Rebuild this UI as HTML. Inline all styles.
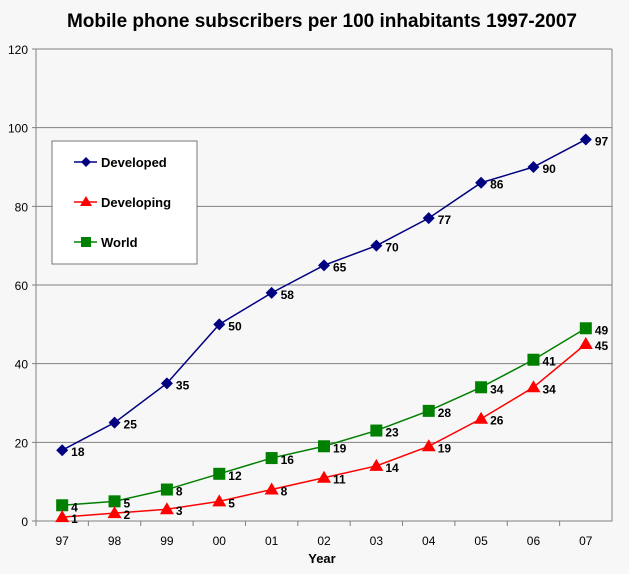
<!DOCTYPE html>
<html><head><meta charset="utf-8"><style>
body{margin:0;background:#f7f7f7;font-family:"Liberation Sans",Arial,sans-serif}
svg text{font-family:"Liberation Sans",Arial,sans-serif}
</style></head><body>
<svg id="c" width="629" height="569" xmlns="http://www.w3.org/2000/svg">
<rect width="629" height="569" fill="#f7f7f7"/>
<text x="322" y="27" text-anchor="middle" font-size="19" font-weight="bold">Mobile phone subscribers per 100 inhabitants 1997-2007</text>
<g id="grid"></g>
<g id="marks"></g>
<text x="322" y="563" text-anchor="middle" font-size="13" font-weight="bold">Year</text>
<g>
<rect x="52" y="141" width="145" height="123" fill="#fff" stroke="#777" stroke-width="1"/>
<line x1="74" y1="162" x2="97" y2="162" stroke="#000080" stroke-width="1.5"/><path d="M86 157 L91 162 L86 167 L81 162Z" fill="#000080"/>
<text x="101" y="167" font-size="13" font-weight="bold">Developed</text>
<line x1="74" y1="202" x2="97" y2="202" stroke="#f00" stroke-width="1.5"/><path d="M86 196 L92 206 L80 206Z" fill="#f00"/>
<text x="101" y="207" font-size="13" font-weight="bold">Developing</text>
<line x1="74" y1="242" x2="97" y2="242" stroke="#008000" stroke-width="1.5"/><rect x="81" y="237" width="10" height="10" fill="#008000"/>
<text x="101" y="247" font-size="13" font-weight="bold">World</text>
</g>
</svg>
<script>
const categories=["97","98","99","00","01","02","03","04","05","06","07"];
const developed=[18,25,35,50,58,65,70,77,86,90,97];
const developing=[1,2,3,5,8,11,14,19,26,34,45];
const world=[4,5,8,12,16,19,23,28,34,41,49];
const yTicks=[0,20,40,60,80,100,120];
const NS="http://www.w3.org/2000/svg";
const X0=36,X1=612,Y0=521,Y1=49,YMAX=120;
const bw=(X1-X0)/categories.length;
const x=i=>X0+bw*(i+0.5);
const y=v=>Y0-(v/YMAX)*(Y0-Y1);
function mk(t,a,p){const e=document.createElementNS(NS,t);for(const k in a)e.setAttribute(k,a[k]);p.appendChild(e);return e;}
const grid=document.getElementById('grid'),marks=document.getElementById('marks');
yTicks.forEach(v=>{
  const l=mk('line',{x1:X0-4,x2:X1,y1:y(v),y2:y(v),stroke:'#808080','stroke-width':1},grid);
  
  
  const t=mk('text',{x:X0-8,y:y(v)+5,'text-anchor':'end','font-size':12},grid);t.textContent=v;
  
  
});
const ax=mk('path',{d:`M${X0} ${Y1} L${X0} ${Y0} L${X1} ${Y0} L${X1} ${Y1}`,fill:'none',stroke:'#808080','stroke-width':1},grid);


categories.forEach((c,i)=>{
  mk('line',{x1:X0+bw*i,x2:X0+bw*i,y1:Y0,y2:Y0+5,stroke:'#808080'},grid);
  const t=mk('text',{x:x(i),y:Y0+24,'text-anchor':'middle','font-size':12},grid);t.textContent=c;
  
  
});
function series(d,col,shape,name){
  const pts=d.map((v,i)=>x(i)+','+y(v)).join(' ');
  const pl=mk('polyline',{points:pts,fill:'none',stroke:col,'stroke-width':1.5},marks);
  
  
  d.forEach((v,i)=>{
    const cx=x(i),cy=y(v);let m;
    if(shape==='d')m=mk('path',{d:`M${cx} ${cy-6}L${cx+6} ${cy}L${cx} ${cy+6}L${cx-6} ${cy}Z`,fill:col},marks);
    else if(shape==='t')m=mk('path',{d:`M${cx} ${cy-7}L${cx+7} ${cy+5}L${cx-7} ${cy+5}Z`,fill:col},marks);
    else m=mk('rect',{x:cx-6,y:cy-6,width:12,height:12,fill:col},marks);
    
    
    const t=mk('text',{x:cx+9,y:cy+6,'font-size':12,'font-weight':'bold'},marks);t.textContent=v;
    
    
  });
}
series(developed,'#000080','d','developed');
series(world,'#008000','s','world');
series(developing,'#ff0000','t','developing');
</script>
</body></html>
